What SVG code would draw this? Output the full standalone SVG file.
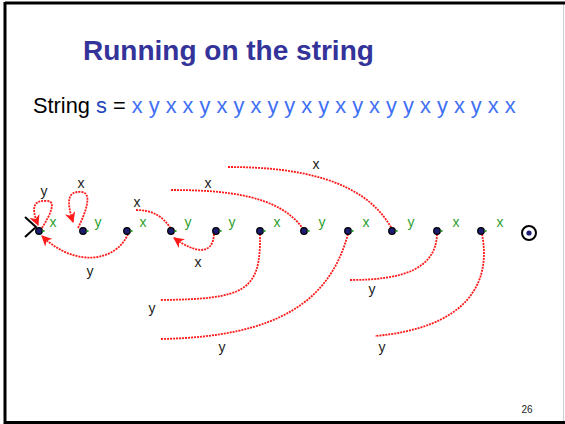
<svg xmlns="http://www.w3.org/2000/svg" width="565" height="424" viewBox="0 0 565 424">
<style>
.t{font-family:"Liberation Sans",Arial,sans-serif}
.lbl{font-family:"Liberation Sans",Arial,sans-serif;font-size:14px;fill:#222;text-anchor:middle}
.g{font-family:"Liberation Sans",Arial,sans-serif;font-size:14px;fill:#2ea02e;text-anchor:middle}
.e{fill:none;stroke:#ff1a1a;stroke-width:1.8;stroke-dasharray:2 1}
.dot{fill:#1c1c70;stroke:#000;stroke-width:1.2}
</style>
<defs>
<marker id="ah" viewBox="0 0 10 10" refX="9" refY="5" markerWidth="6" markerHeight="6" markerUnits="strokeWidth" orient="auto">
<path d="M0,0 L10,5 L0,10 L3,5 z" fill="#ff1a1a"/>
</marker>
</defs>
<rect x="0" y="0" width="565" height="424" fill="#fff"/>
<line x1="563.5" y1="4" x2="563.5" y2="421" stroke="#ccc" stroke-width="1"/>
<line x1="5" y1="3" x2="565" y2="3" stroke="#000" stroke-width="3"/>
<line x1="5" y1="2" x2="5" y2="424" stroke="#000" stroke-width="3"/>
<line x1="4" y1="422.5" x2="565" y2="422.5" stroke="#000" stroke-width="3"/>

<text class="t" x="83" y="60" font-size="28" font-weight="bold" fill="#333399">Running on the string</text>
<text class="t" x="33" y="113" font-size="21.8" fill="#000">String <tspan fill="#2244bb">s</tspan> = <tspan fill="#3f6ff5">x y x x y x y x y y x y x y x y y x y x y x x</tspan></text>

<g id="connectors">
<path class="e" d="M42,228 C50,215 57,201 47,201 C35,200 30,205 38,225" marker-end="url(#ah)"/>
<path class="e" d="M78,228 C86,212 93,192 81,192 C68,191 66,200 73,222" marker-end="url(#ah)"/>
<path class="e" d="M128,234 C116,262 75,268 42,236" marker-end="url(#ah)"/>
<path class="e" d="M214,234 C213,256 195,253 174,238" marker-end="url(#ah)"/>
<path class="e" d="M136,210 C152,210 163,216 171,229"/>
<path class="e" d="M171,190 C225,190 280,195 303,229"/>
<path class="e" d="M228,167 C300,167 365,180 392,229"/>
<path class="e" d="M260,234 C261,292 245,299 160,300"/>
<path class="e" d="M348,234 C330,300 280,337 160,339"/>
<path class="e" d="M437,234 C436,268 405,280 350,280"/>
<path class="e" d="M482,234 C492,285 465,328 375,336"/>
<text class="lbl" x="44" y="196">y</text>
<text class="lbl" x="81" y="188">x</text>
<text class="lbl" x="90" y="276">y</text>
<text class="lbl" x="137" y="207">x</text>
<text class="lbl" x="198" y="267">x</text>
<text class="lbl" x="208" y="188">x</text>
<text class="lbl" x="316" y="169">x</text>
<text class="lbl" x="152" y="313">y</text>
<text class="lbl" x="222" y="352">y</text>
<text class="lbl" x="372" y="294">y</text>
<text class="lbl" x="382" y="352">y</text>
<text class="g" x="53" y="227">x</text>
<text class="g" x="98" y="227">y</text>
<text class="g" x="143" y="227">x</text>
<text class="g" x="188" y="227">y</text>
<text class="g" x="232" y="227">y</text>
<text class="g" x="277" y="227">x</text>
<text class="g" x="322" y="227">y</text>
<text class="g" x="366" y="227">x</text>
<text class="g" x="411" y="227">y</text>
<text class="g" x="456" y="227">x</text>
<text class="g" x="500" y="227">x</text>
</g>

<polyline points="25,217 36,227 25,237" fill="none" stroke="#000" stroke-width="2"/>
<g id="n0"><circle class="dot" cx="39" cy="231" r="3.3"/><rect x="42.5" y="230" width="2" height="2" fill="#2ea02e"/></g>
<g id="n1"><circle class="dot" cx="83" cy="231" r="3.3"/><rect x="86.5" y="230" width="2" height="2" fill="#2ea02e"/></g>
<g id="n2"><circle class="dot" cx="127" cy="231" r="3.3"/><rect x="130.5" y="230" width="2" height="2" fill="#2ea02e"/></g>
<g id="n3"><circle class="dot" cx="171" cy="231" r="3.3"/><rect x="174.5" y="230" width="2" height="2" fill="#2ea02e"/></g>
<g id="n4"><circle class="dot" cx="216" cy="231" r="3.3"/><rect x="219.5" y="230" width="2" height="2" fill="#2ea02e"/></g>
<g id="n5"><circle class="dot" cx="260" cy="231" r="3.3"/><rect x="263.5" y="230" width="2" height="2" fill="#2ea02e"/></g>
<g id="n6"><circle class="dot" cx="304" cy="231" r="3.3"/><rect x="307.5" y="230" width="2" height="2" fill="#2ea02e"/></g>
<g id="n7"><circle class="dot" cx="348" cy="231" r="3.3"/><rect x="351.5" y="230" width="2" height="2" fill="#2ea02e"/></g>
<g id="n8"><circle class="dot" cx="392" cy="231" r="3.3"/><rect x="395.5" y="230" width="2" height="2" fill="#2ea02e"/></g>
<g id="n9"><circle class="dot" cx="437" cy="231" r="3.3"/><rect x="440.5" y="230" width="2" height="2" fill="#2ea02e"/></g>
<g id="n10"><circle class="dot" cx="481" cy="231" r="3.3"/><rect x="484.5" y="230" width="2" height="2" fill="#2ea02e"/></g>
<g id="n11"><circle cx="529" cy="233" r="7" fill="none" stroke="#000" stroke-width="2"/><circle cx="529" cy="233" r="2.6" fill="#1c1c70"/></g>

<text class="t" x="527" y="413" font-size="10" fill="#222" text-anchor="middle">26</text>
</svg>
